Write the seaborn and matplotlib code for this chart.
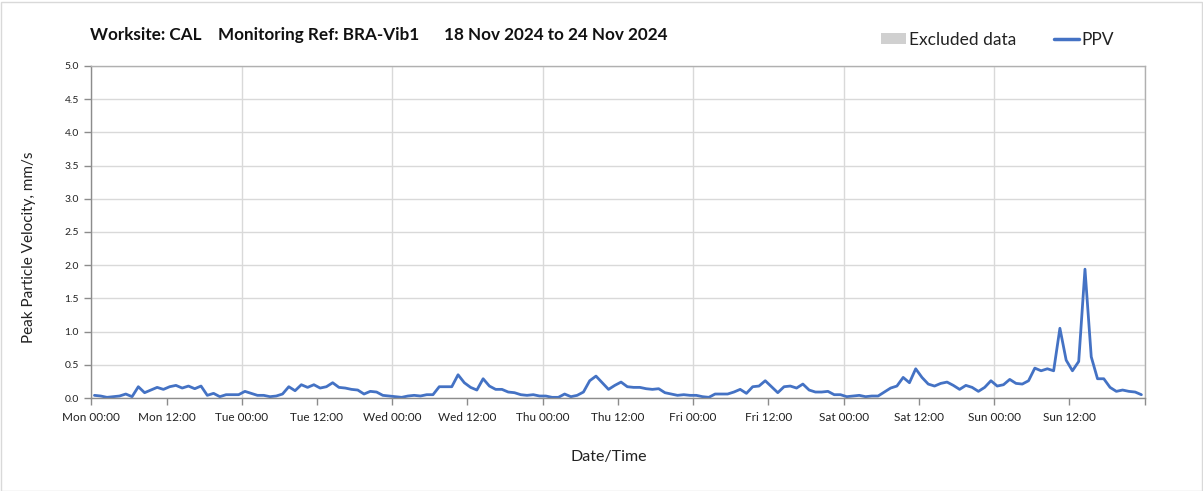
import numpy as np
import pandas as pd
import matplotlib
matplotlib.use("Agg")
import matplotlib.pyplot as plt
import matplotlib.dates as mdates
from matplotlib.patches import Patch, Rectangle
from matplotlib.lines import Line2D
import seaborn as sns

# ---- data (hourly PPV, mm/s) ----
start_time = "2024-11-18 00:30"
n_hours = 168
ppv_mon = [0.04, 0.03, 0.01, 0.02, 0.03, 0.06, 0.02, 0.17, 0.08, 0.12, 0.16, 0.13,
           0.17, 0.19, 0.15, 0.18, 0.14, 0.18, 0.04, 0.07, 0.02, 0.05, 0.05, 0.05]
ppv_tue = [0.10, 0.07, 0.04, 0.04, 0.02, 0.03, 0.06, 0.17, 0.11, 0.20, 0.16, 0.20,
           0.15, 0.17, 0.23, 0.16, 0.15, 0.13, 0.12, 0.06, 0.10, 0.09, 0.04, 0.03]
ppv_wed = [0.02, 0.01, 0.03, 0.04, 0.03, 0.05, 0.05, 0.17, 0.17, 0.17, 0.35, 0.23,
           0.16, 0.12, 0.29, 0.18, 0.13, 0.13, 0.09, 0.08, 0.05, 0.04, 0.05, 0.03]
ppv_thu = [0.03, 0.01, 0.01, 0.06, 0.02, 0.04, 0.09, 0.26, 0.33, 0.23, 0.13, 0.19,
           0.24, 0.17, 0.16, 0.16, 0.14, 0.13, 0.14, 0.08, 0.06, 0.04, 0.05, 0.04]
ppv_fri = [0.04, 0.02, 0.01, 0.06, 0.06, 0.06, 0.09, 0.13, 0.07, 0.17, 0.18, 0.26,
           0.17, 0.08, 0.17, 0.18, 0.15, 0.21, 0.12, 0.09, 0.09, 0.10, 0.05, 0.05]
ppv_sat = [0.02, 0.03, 0.04, 0.02, 0.03, 0.03, 0.09, 0.15, 0.18, 0.31, 0.23, 0.44,
           0.31, 0.21, 0.18, 0.22, 0.24, 0.19, 0.13, 0.19, 0.16, 0.10, 0.16, 0.26]
ppv_sun = [0.18, 0.20, 0.28, 0.22, 0.21, 0.26, 0.45, 0.41, 0.44, 0.41, 1.05, 0.57,
           0.41, 0.55, 1.94, 0.62, 0.29, 0.29, 0.16, 0.10, 0.12, 0.10, 0.09, 0.05]

title_text = "Worksite: CAL    Monitoring Ref: BRA-Vib1      18 Nov 2024 to 24 Nov 2024"
y_label = "Peak Particle Velocity, mm/s"
x_label = "Date/Time"
legend_labels = ["Excluded data", "PPV"]
x_start = "2024-11-18 00:00"
x_end = "2024-11-25 00:00"

ppv = ppv_mon + ppv_tue + ppv_wed + ppv_thu + ppv_fri + ppv_sat + ppv_sun
times = pd.date_range(start_time, periods=n_hours, freq="h")
df = pd.DataFrame({"time": times, "ppv": ppv})

sns.set_theme(style="white")
plt.rcParams["font.family"] = ["Lato", "DejaVu Sans"]

fig = plt.figure(figsize=(12.03, 4.91), dpi=100)
ax = fig.add_axes([0.0759, 0.1894, 0.8755, 0.6762])

line_color = "#4472C4"
sns.lineplot(data=df, x="time", y="ppv", ax=ax, color=line_color, linewidth=2.0)

t0 = pd.Timestamp(x_start)
t1 = pd.Timestamp(x_end)
ax.set_xlim(t0, t1)
ax.set_ylim(0, 5)
ax.set_yticks(np.arange(0, 5.01, 0.5))
ax.yaxis.set_major_formatter(matplotlib.ticker.FormatStrFormatter("%.1f"))

end_num = mdates.date2num(t1)


def date_fmt(v, pos=None):
    if abs(v - end_num) < 1e-6:
        return ""
    return mdates.num2date(v).strftime("%a %H:%M")


ax.xaxis.set_major_locator(mdates.HourLocator(byhour=[0]))
ax.xaxis.set_minor_locator(mdates.HourLocator(byhour=[12]))
ax.xaxis.set_major_formatter(matplotlib.ticker.FuncFormatter(date_fmt))
ax.xaxis.set_minor_formatter(matplotlib.ticker.FuncFormatter(date_fmt))

grid_c = "#d9d9d9"
ax.grid(True, which="major", axis="both", color=grid_c, linewidth=1.0)
ax.grid(False, which="minor")
ax.set_axisbelow(True)

for s in ["left", "bottom"]:
    ax.spines[s].set_color("#8c8c8c")
    ax.spines[s].set_linewidth(1.0)
for s in ["top", "right"]:
    ax.spines[s].set_color("#b0b0b0")
    ax.spines[s].set_linewidth(1.0)

ax.tick_params(axis="y", which="major", length=5, width=1, color="#8c8c8c",
               labelsize=7.5, labelcolor="#222222", pad=4, left=True)
ax.tick_params(axis="x", which="both", length=5, width=1, color="#8c8c8c",
               labelsize=8.5, labelcolor="#222222", pad=5, bottom=True)

ax.set_xlabel(x_label, fontsize=11.5, color="#222222")
ax.set_ylabel(y_label, fontsize=11, color="#222222")
ax.xaxis.set_label_coords(0.4916, -0.157)
ax.yaxis.set_label_coords(-0.0525, 0.455)

fig.text(90 / 1203, 1 - 35 / 491, title_text, fontsize=12.3, fontweight="bold",
         color="#111111", ha="left", va="center")

handles = [Patch(facecolor="#d0d0d0", edgecolor="none"),
           Line2D([0], [0], color=line_color, linewidth=2.5)]
fig.legend(handles, legend_labels, loc="center right", ncol=2,
           bbox_to_anchor=(1126 / 1203, 1 - 40 / 491), frameon=False,
           fontsize=12.5, handlelength=1.45, handleheight=0.6, handletextpad=0.15,
           columnspacing=2.15, labelcolor="#222222", borderpad=0.2)

fig.patches.append(Rectangle((0.001, 0.001), 0.998, 0.994, transform=fig.transFigure,
                             fill=False, edgecolor="#d9d9d9", linewidth=1.0))

fig.savefig("out.png", dpi=100, facecolor="white")
